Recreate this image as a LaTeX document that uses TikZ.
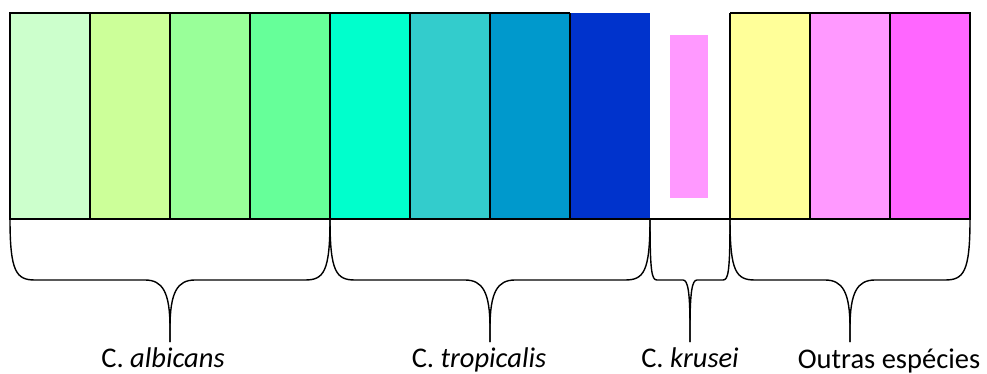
\documentclass[tikz,border=0pt]{standalone}
\usepackage{fontspec}
\setmainfont{Carlito}
\begin{document}
\begin{tikzpicture}[x=1pt,y=-1pt,
  cell/.style={line width=1.4pt, draw=black},
  bracestroke/.style={line width=1.4pt, line join=round},
  species/.style={font=\fontsize{28.5}{31}\selectfont, inner sep=0pt, anchor=base}]
\useasboundingbox (0,0) rectangle (987,374);
% colour strip, one column per isolate group
\definecolor{c1}{HTML}{CCFFCC}
\definecolor{c2}{HTML}{CCFF99}
\definecolor{c3}{HTML}{99FF99}
\definecolor{c4}{HTML}{66FF99}
\definecolor{c5}{HTML}{00FFCC}
\definecolor{c6}{HTML}{33CCCC}
\definecolor{c7}{HTML}{0099CC}
\definecolor{c8}{HTML}{0033CC}
\definecolor{c10}{HTML}{FFFF99}
\definecolor{c11}{HTML}{FF99FF}
\definecolor{c12}{HTML}{FF66FF}
\foreach \i/\c in {0/c1,1/c2,2/c3,3/c4,4/c5,5/c6,6/c7,7/c8,9/c10,10/c11,11/c12}
  \fill[\c] (10+80*\i,13) rectangle (90+80*\i,219);
% inner bar of the C. krusei column
\fill[c11] (670,35) rectangle (708,198);
% column borders
\draw[cell] (570,13) -- (10,13) -- (10,219) -- (970,219) -- (970,13) -- (730,13);
\foreach \x in {90,170,250,330,410,490,570,730,810,890}
  \draw[cell] (\x,13) -- (\x,219);
% curly braces under the strip
\newcommand{\groupbrace}[3]{%
  \pgfmathsetmacro{\mid}{(#1+#2)/2}%
  \draw[bracestroke] (#1,219) .. controls (#1,272) and (#1+0.25*#3,280) .. (#1+#3,280)
     -- (\mid-#3,280) .. controls (\mid-0.3*#3,280) and (\mid,292) .. (\mid,328) -- (\mid,342);
  \draw[bracestroke] (#2,219) .. controls (#2,272) and (#2-0.25*#3,280) .. (#2-#3,280)
     -- (\mid+#3,280) .. controls (\mid+0.3*#3,280) and (\mid,292) .. (\mid,328) -- (\mid,342);}
\groupbrace{10}{330}{25}
\groupbrace{330}{650}{25}
\groupbrace{650}{730}{7}
\groupbrace{730}{970}{25}
% species labels
\node[species] (albicans) at (163,367) {C. \textit{albicans}};
\node[species] (tropicalis) at (479,367) {C. \textit{tropicalis}};
\node[species] (krusei) at (690,367) {C. \textit{krusei}};
\node[species] (outras) at (889,368) {Outras espécies};
\end{tikzpicture}
\end{document}
